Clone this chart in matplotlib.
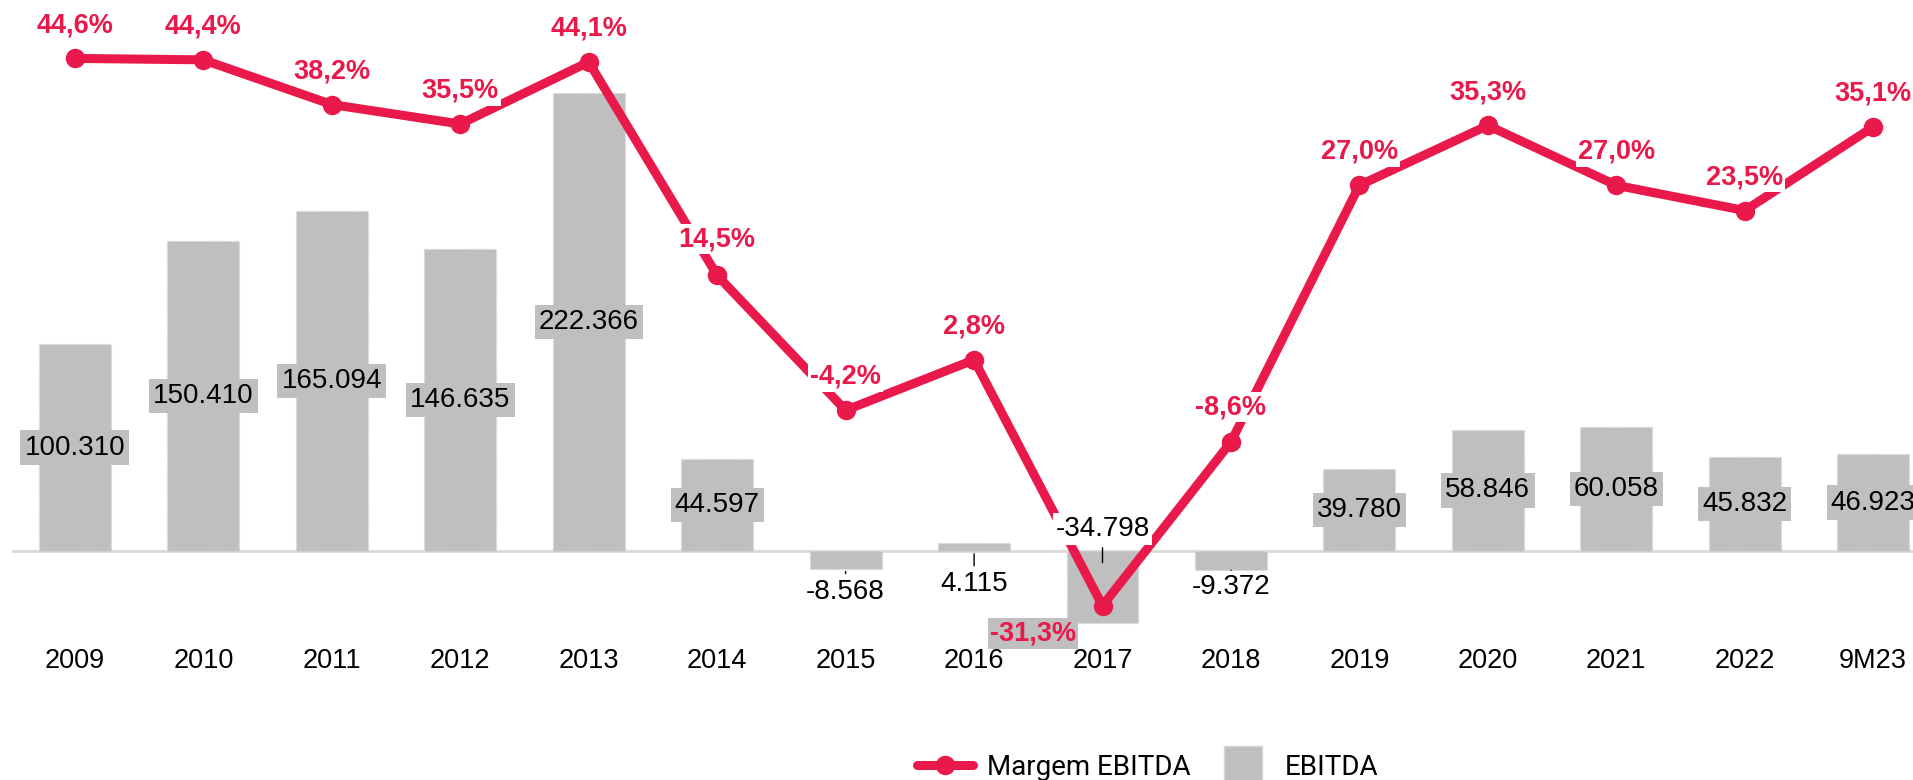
import matplotlib
matplotlib.use("Agg")
import matplotlib.pyplot as plt
from matplotlib.lines import Line2D

# ---------- dados ----------
periodos = ["2009", "2010", "2011", "2012", "2013", "2014", "2015", "2016",
            "2017", "2018", "2019", "2020", "2021", "2022", "9M23"]
ebitda = [100310, 150410, 165094, 146635, 222366, 44597, -8568, 4115,
          -34798, -9372, 39780, 58846, 60058, 45832, 46923]
margem = [44.6, 44.4, 38.2, 35.5, 44.1, 14.5, -4.2, 2.8,
          -31.3, -8.6, 27.0, 35.3, 27.0, 23.5, 35.1]

# ---------- estilo ----------
VERMELHO = "#E91A4B"
CINZA = "#BFBFBF"
FONTE = "Liberation Sans"

# rótulos de barras pequenas: (deslocamento em pt, fração do valor para a guia, fundo)
BAR_CALLOUTS = {6: (-17, 1.0, "white"), 7: (-24, 0.0, "white"),
                8: (26, 0.2, "white"), 9: (-12, 1.0, "white")}
# rótulos da margem com posição especial
LINE_OFFSETS = {5: (0, 26), 8: (-50, -20), 9: (0, 25)}


def fmt_milhar(v):
    return f"{v:,}".replace(",", ".")


def fmt_pct(v):
    return f"{v:.1f}%".replace(".", ",")


fig = plt.figure(figsize=(19.13, 7.80), dpi=100)
ax = fig.add_axes([12 / 1913, 140 / 780, 1 - 12 / 1913, 640 / 780])
ax2 = ax.twinx()

x = list(range(len(periodos)))

ax.bar(x, ebitda, width=0.56, color=CINZA, edgecolor="#D6D6D6",
       linestyle=":", linewidth=1, zorder=2)
ax.axhline(0, color="#D9D9D9", lw=2, zorder=1)

ax2.plot(x, margem, color=VERMELHO, lw=6.5, marker="o", markersize=13,
         solid_capstyle="round", zorder=3)

ax.set_xlim(-0.49, 14.31)
ax.set_ylim(-43165, 267235)
ax2.set_ylim(-36.06, 52.7)

for a in (ax, ax2):
    for s in a.spines.values():
        s.set_visible(False)
    a.set_yticks([])
ax.set_xticks(x)
ax.set_xticklabels(periodos, fontsize=19.5, family=FONTE)
ax.tick_params(axis="x", length=0, pad=6)

# rótulos das barras (desenhados em ax2 para ficarem sobre a linha)
for i, v in enumerate(ebitda):
    if i in BAR_CALLOUTS:
        dy, frac, bg = BAR_CALLOUTS[i]
        ax2.annotate(fmt_milhar(v), xy=(i, v * frac), xycoords=ax.transData,
                     xytext=(0, dy), textcoords="offset points",
                     ha="center", va="center", fontsize=20, family=FONTE,
                     bbox=dict(boxstyle="square,pad=0.1", fc=bg, ec="none"),
                     arrowprops=dict(arrowstyle="-", color="black", lw=1,
                                     shrinkA=2, shrinkB=2),
                     zorder=5)
    else:
        ax2.annotate(fmt_milhar(v), xy=(i, v / 2), xycoords=ax.transData,
                     ha="center", va="center", fontsize=20, family=FONTE,
                     bbox=dict(boxstyle="square,pad=0.15", fc=CINZA, ec="none"),
                     zorder=5)

# rótulos da margem
for i, v in enumerate(margem):
    off = LINE_OFFSETS.get(i, (0, 24))
    bg = CINZA if i == 8 else "white"
    ax2.annotate(fmt_pct(v), xy=(i, v), xytext=off, textcoords="offset points",
                 ha="center", va="center", fontsize=19.5, fontweight="bold",
                 family=FONTE, color=VERMELHO,
                 bbox=dict(boxstyle="square,pad=0.08", fc=bg, ec="none"),
                 zorder=6)

handles = [
    Line2D([0], [0], color=VERMELHO, lw=6.5, marker="o", markersize=13,
           solid_capstyle="round"),
    Line2D([0], [0], color=CINZA, marker="s", linestyle="none", markersize=27,
           markeredgecolor="#D6D6D6"),
]
fig.legend(handles, ["Margem EBITDA", "EBITDA"], loc="center",
           bbox_to_anchor=(0.600, 0.016), ncol=2, frameon=False,
           prop={"family": "Roboto", "size": 20}, handlelength=2.0,
           columnspacing=0.9, handletextpad=0.5)

fig.savefig("out.png", dpi=100)
